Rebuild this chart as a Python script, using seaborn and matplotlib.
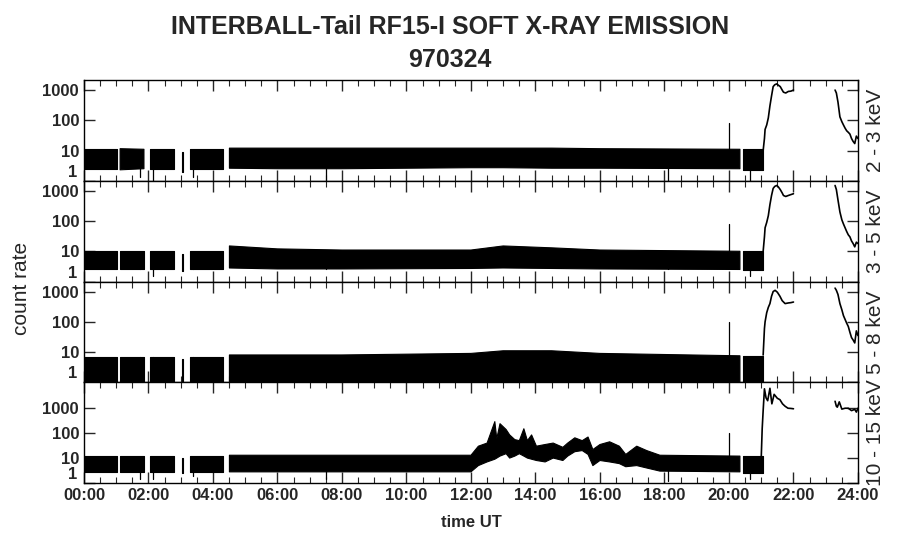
import numpy as np
import seaborn as sns
import matplotlib.pyplot as plt

nan = np.nan

# noise envelope of each channel (hours, low, high); nan marks data gaps
t_band = [0, 1.01, nan, 1.12, 1.86, nan, 2.05, 2.78, nan, 3.04, 3.08, nan,
          3.29, 4.32, nan, 4.51, 6.0, 8.0, 12.0, 13.0, 14.5, 16.0, 20.34, nan, 20.42, 21.06]
lo1 = [2.5, 2.5, nan, 2.3, 2.5, nan, 2.4, 2.4, nan, 2.0, 2.0, nan,
       2.5, 2.5, nan, 2.6, 2.5, 2.5, 2.7, 2.7, 2.6, 2.6, 2.5, nan, 2.2, 2.2]
hi1 = [11, 11, nan, 11.5, 11, nan, 11, 11, nan, 9, 9, nan,
       11, 11, nan, 12, 12, 12, 12, 12, 12, 11.5, 11, nan, 11, 11]
lo2 = [2.5, 2.5, nan, 2.5, 2.5, nan, 2.5, 2.5, nan, 2.2, 2.2, nan,
       2.5, 2.5, nan, 2.8, 2.6, 2.6, 2.7, 2.8, 2.7, 2.6, 2.5, nan, 2.4, 2.4]
hi2 = [10, 10, nan, 10, 10, nan, 10, 10, nan, 8, 8, nan,
       10, 10, nan, 15, 12, 11, 11, 15, 13, 11, 10, nan, 10, 10]
lo3 = [0.5, 0.5, nan, 0.5, 0.5, nan, 0.5, 0.5, nan, 0.5, 0.5, nan,
       0.5, 0.5, nan, 0.5, 0.5, 0.5, 0.5, 0.5, 0.5, 0.5, 0.5, nan, 0.5, 0.5]
hi3 = [7, 7, nan, 7, 7, nan, 7, 7, nan, 6, 6, nan,
       7, 7, nan, 8, 8, 8, 9, 11, 11, 9, 7.5, nan, 7.5, 7.5]

t_band4 = [0, 1.01, nan, 1.12, 1.86, nan, 2.05, 2.78, nan, 3.04, 3.08, nan, 3.29, 4.32, nan,
           4.51, 12.0, 12.23, 12.5, 12.74, 12.8, 12.9, 13.09, 13.2, 13.36, 13.5, 13.64, 13.75,
           13.88, 14.03, 14.3, 14.55, 14.85, 15.0, 15.22, 15.45, 15.63, 15.78, 16.0, 16.3,
           16.6, 16.8, 17.14, 17.45, 17.86, 20.34, nan, 20.42, 21.06]
lo4 = [2.8, 2.8, nan, 2.8, 2.8, nan, 2.8, 2.8, nan, 2.5, 2.5, nan, 2.8, 2.8, nan,
       2.8, 2.8, 5, 7, 9, 10, 12, 15, 10, 12, 15, 12, 10,
       9, 8, 7, 10, 8, 12, 18, 20, 14, 5, 8, 7,
       6, 4.5, 5, 4, 3, 2.8, nan, 2.6, 2.6]
hi4 = [12, 12, nan, 12, 12, nan, 12, 12, nan, 10, 10, nan, 12, 12, nan,
       13, 13, 30, 40, 290, 60, 240, 140, 85, 55, 50, 150, 50,
       85, 30, 35, 40, 27, 40, 65, 50, 70, 22, 35, 45,
       30, 14, 30, 20, 13, 12, nan, 12, 12]

# flare after 21:00
f1_t = [21.06, 21.1, 21.12, 21.17, 21.22, 21.27, 21.32, 21.37, 21.42, 21.48, 21.53,
        21.59, 21.65, 21.69, 21.76, 21.84, 21.92, 22.0]
f1_y = [10, 25, 50, 70, 120, 300, 640, 1300, 1500, 1600, 1450, 1300, 1000, 850, 800, 900, 920, 1000]
f2_y = [10, 30, 60, 90, 150, 350, 700, 1200, 1400, 1500, 1350, 1100, 850, 700, 650, 700, 750, 800]
f3_t = [21.06, 21.1, 21.12, 21.17, 21.22, 21.27, 21.32, 21.37, 21.43, 21.5, 21.58, 21.65,
        21.74, 21.84, 21.92, 22.0]
f3_y = [8, 60, 100, 200, 300, 400, 700, 1000, 1100, 950, 700, 500, 400, 420, 430, 450]
f4_t = [21.0, 21.03, 21.06, 21.1, 21.15, 21.2, 21.27, 21.33, 21.4, 21.5, 21.58, 21.66,
        21.74, 21.83, 21.92, 22.0]
f4_y = [10, 150, 800, 6000, 2600, 2000, 6300, 1500, 3600, 2500, 2200, 1500, 1200, 1000, 980, 950]

# decay near 24:00
r_t = [23.29, 23.33, 23.38, 23.44, 23.5, 23.55, 23.6, 23.65, 23.7, 23.75, 23.8, 23.85,
       23.9, 23.95, 24.0]
r1_y = [1000, 800, 400, 130, 90, 70, 55, 45, 40, 35, 25, 20, 17, 30, 25]
r2_y = [1500, 1100, 500, 200, 110, 80, 60, 45, 35, 30, 22, 18, 14, 20, 18]
r3_y = [1300, 1100, 800, 400, 250, 160, 120, 90, 70, 45, 30, 25, 20, 50, 35]
r4_t = [23.29, 23.33, 23.36, 23.42, 23.5, 23.6, 23.7, 23.8, 23.9, 23.95, 24.0]
r4_y = [1900, 1200, 1100, 1800, 920, 1000, 1000, 800, 900, 700, 1000]

# isolated spikes (time, value)
spike_t = [1.74, 2.15, 3.37, 7.52, 18.12, 20.0, 20.65]
spike1 = [1.3, 0.8, 1.3, 1.0, 0.8, 80, 0.8]
spike2 = [2.5, 1.5, 2.5, 2.5, 2.5, 80, 1.5]
spike3 = [7, 7, 7, 7, 7, 100, 7]
spike4 = [1.5, 1.5, 2.0, 1.5, 1.2, 100, 1.5]

labels = ["2 - 3 keV", "3 - 5 keV", "5 - 8 keV", "10 - 15 keV"]
ytops = [2150, 2150, 2150, 11000]
hours = list(range(0, 25, 2))

sns.set_style("ticks")
plt.rcParams['font.family'] = ['Liberation Sans', 'DejaVu Sans']

panels = [
    (t_band, lo1, hi1, f1_t, f1_y, r_t, r1_y, spike1),
    (t_band, lo2, hi2, f1_t, f2_y, r_t, r2_y, spike2),
    (t_band, lo3, hi3, f3_t, f3_y, r_t, r3_y, spike3),
    (t_band4, lo4, hi4, f4_t, f4_y, r4_t, r4_y, spike4),
]

fig, axes = plt.subplots(4, 1, figsize=(9, 5.48), dpi=100, sharex=True)
fig.subplots_adjust(left=0.0933, right=0.9533, top=0.854, bottom=0.1186, hspace=0)

for ax, (tb, lo, hi, ft, fy, rt, ry, sp), lab, ytop in zip(axes, panels, labels, ytops):
    ax.fill_between(tb, lo, hi, color="black", linewidth=0.8, edgecolor="black")
    sns.lineplot(x=ft, y=fy, ax=ax, color="black", linewidth=1.2, estimator=None, sort=False)
    sns.lineplot(x=rt, y=ry, ax=ax, color="black", linewidth=1.2, estimator=None, sort=False)
    for st, sv in zip(spike_t, sp):
        ax.plot([st, st], [5, sv], color="black", linewidth=0.9)
    ax.set_yscale("log")
    ax.set_ylim(1, ytop)
    ax.set_xlim(0, 24)
    ax.set_yticks([1, 10, 100, 1000])
    ax.set_yticklabels(["", "10", "100", "1000"], fontsize=12, fontweight="bold")
    # the "1" label sits a little above the panel border
    ax.annotate("1", xy=(0, 1), xycoords=("axes fraction", "data"), xytext=(-5, 6),
                textcoords="offset points", ha="right", va="center",
                fontsize=12, fontweight="bold")
    ax.set_xticks(hours)
    ax.set_xticks(np.arange(0, 24.01, 0.5), minor=True)
    ax.tick_params(which="major", direction="in", length=8, width=1, top=True, right=True)
    ax.tick_params(which="minor", direction="in", length=4, width=0.8, top=True, right=True)
    ax.set_ylabel("")
    for s in ax.spines.values():
        s.set_linewidth(1.0)
        s.set_color("black")
    ax.text(1.01, 0.5, lab, transform=ax.transAxes, rotation=90,
            ha="left", va="center", fontsize=15)

axes[-1].set_xticklabels([f"{h:02d}:00" for h in hours], fontsize=12, fontweight="bold")
axes[-1].set_xlabel("time UT", fontsize=12, fontweight="bold", labelpad=9)

fig.text(0.5, 0.95, "INTERBALL-Tail RF15-I SOFT X-RAY EMISSION", ha="center", va="center",
         fontsize=18, fontweight="bold")
fig.text(0.5, 0.89, "970324", ha="center", va="center", fontsize=18, fontweight="bold")
fig.text(0.024, 0.474, "count rate", rotation=90, ha="center", va="center", fontsize=15)

fig.savefig("out.png", dpi=100)
